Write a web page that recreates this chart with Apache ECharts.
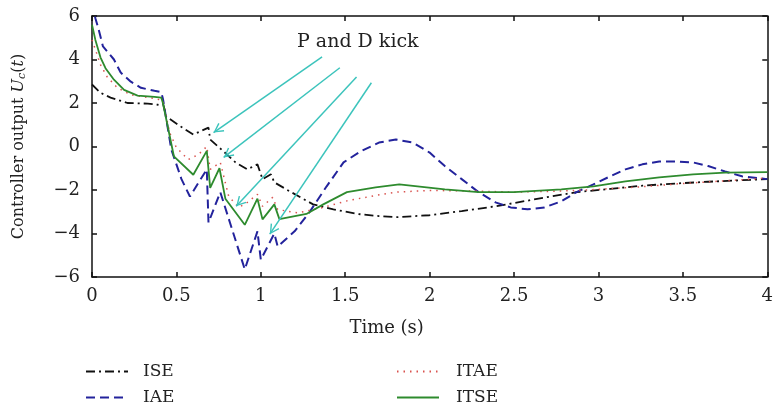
<!DOCTYPE html>
<html>
<head>
<meta charset="utf-8">
<script src="https://cdn.jsdelivr.net/npm/echarts@6/dist/echarts.min.js"></script>
<style>
html,body{margin:0;padding:0;background:#fff;}
#chart{width:776px;height:407px;}
</style>
</head>
<body>
<div id="chart"></div>
<script>
// ---- data (time s, controller output) ----
const seriesNames = ['ISE', 'IAE', 'ITAE', 'ITSE'];
const xTicks = [0, 0.5, 1, 1.5, 2, 2.5, 3, 3.5, 4];
const yTicks = [-6, -4, -2, 0, 2, 4, 6];

const ISE = [[0,2.85],[0.05,2.47],[0.11,2.25],[0.21,2.0],[0.33,1.97],[0.39,1.92],[0.42,2.0],[0.44,1.37],[0.53,0.9],[0.6,0.55],[0.69,0.87],[0.70,0.32],[0.78,-0.23],[0.85,-0.73],[0.92,-1.05],[0.98,-0.82],[1.01,-1.5],[1.06,-1.28],[1.08,-1.65],[1.18,-2.1],[1.31,-2.66],[1.43,-2.89],[1.57,-3.1],[1.70,-3.2],[1.80,-3.25],[2.0,-3.16],[2.19,-2.97],[2.39,-2.75],[2.5,-2.6],[2.68,-2.35],[2.87,-2.1],[3.07,-1.95],[3.26,-1.8],[3.46,-1.7],[3.65,-1.62],[3.85,-1.55],[4.0,-1.5]];

const IAE = [[0,6.6],[0.02,5.9],[0.04,5.36],[0.065,4.6],[0.13,4.0],[0.17,3.4],[0.23,2.98],[0.29,2.7],[0.37,2.56],[0.41,2.5],[0.42,2.2],[0.47,-0.14],[0.53,-1.5],[0.58,-2.3],[0.68,-1.05],[0.69,-3.5],[0.76,-2.1],[0.905,-5.65],[0.98,-3.9],[1.0,-5.2],[1.08,-4.0],[1.1,-4.6],[1.2,-3.9],[1.29,-3.0],[1.39,-1.83],[1.49,-0.73],[1.59,-0.23],[1.70,0.18],[1.80,0.32],[1.90,0.18],[2.0,-0.28],[2.09,-0.9],[2.19,-1.5],[2.29,-2.1],[2.39,-2.57],[2.48,-2.8],[2.58,-2.89],[2.68,-2.8],[2.78,-2.52],[2.87,-2.1],[2.97,-1.74],[3.07,-1.37],[3.16,-1.05],[3.26,-0.82],[3.36,-0.69],[3.46,-0.69],[3.56,-0.73],[3.65,-0.9],[3.75,-1.15],[3.85,-1.37],[4.0,-1.5]];

const ITAE = [[0,4.9],[0.025,4.35],[0.05,3.76],[0.09,3.2],[0.15,2.7],[0.23,2.38],[0.33,2.25],[0.38,2.2],[0.42,2.1],[0.46,0.64],[0.5,-0.05],[0.57,-0.6],[0.63,-0.37],[0.68,0],[0.70,-1.05],[0.76,-0.73],[0.81,-2.3],[0.87,-2.8],[0.92,-2.57],[0.98,-2.2],[1.01,-2.75],[1.07,-2.34],[1.1,-2.9],[1.22,-3.05],[1.37,-2.8],[1.51,-2.5],[1.68,-2.25],[1.8,-2.1],[2.0,-2.02],[2.29,-2.05],[2.5,-2.1],[2.78,-2.05],[3.0,-1.97],[3.26,-1.85],[3.5,-1.7],[3.75,-1.58],[4.0,-1.45]];

const ITSE = [[0,5.6],[0.02,4.9],[0.05,4.1],[0.08,3.6],[0.13,3.07],[0.19,2.6],[0.27,2.34],[0.37,2.28],[0.41,2.25],[0.42,2.0],[0.485,-0.45],[0.6,-1.3],[0.68,-0.2],[0.70,-1.9],[0.755,-1.0],[0.79,-2.4],[0.905,-3.6],[0.98,-2.4],[1.01,-3.35],[1.08,-2.66],[1.11,-3.34],[1.27,-3.1],[1.37,-2.66],[1.51,-2.1],[1.68,-1.88],[1.82,-1.74],[2.09,-1.97],[2.29,-2.1],[2.5,-2.1],[2.78,-1.97],[2.97,-1.83],[3.16,-1.6],[3.36,-1.42],[3.56,-1.28],[3.75,-1.2],[4.0,-1.18]];

// annotation arrows: [start, tip] in data coordinates
const kickArrows = [
  [[1.363, 4.12], [0.72, 0.64]],
  [[1.468, 3.62], [0.78, -0.5]],
  [[1.567, 3.2], [0.854, -2.75]],
  [[1.655, 2.93], [1.053, -4.03]]
];
const annotationText = 'P and D kick';

// ---- chart ----
const FONT = 'DejaVu Serif';
const chart = echarts.init(document.getElementById('chart'), null, {renderer: 'canvas'});
const minusFmt = v => String(v).replace('-', '\u2212');
// open chevron with its vertex at the centre of a square box
const chevron = 'path://M5,0 L10,9 L8.8,9.7 L5,2.6 L1.2,9.7 L0,9 Z' +
  ' M5,-9.7 L5.01,-9.7 L5,-9.69 Z M-4.7,0 L-4.69,0 L-4.7,0.01 Z M14.7,0 L14.69,0 L14.7,0.01 Z';

const axisCommon = {
  axisLine: {show: true, onZero: false, lineStyle: {color: '#111', width: 1.5}},
  axisTick: {show: true, inside: true, length: 5, lineStyle: {color: '#111', width: 1.5}},
  splitLine: {show: false}
};

const legendCommon = {
  orient: 'vertical', top: 363, padding: 0,
  itemWidth: 42, itemHeight: 12, itemGap: 9,
  itemStyle: {opacity: 0}
};

const option = {
  animation: false,
  backgroundColor: '#fff',
  grid: {left: 92, right: 1, top: 16, bottom: 130, containLabel: false},
  xAxis: [
    Object.assign({
      type: 'value', min: xTicks[0], max: xTicks[xTicks.length - 1], interval: 0.5, position: 'bottom',
      axisLabel: {fontFamily: FONT, fontSize: 18, color: '#222', margin: 10, formatter: minusFmt},
      name: 'Time (s)', nameLocation: 'middle', nameGap: 42,
      nameTextStyle: {fontFamily: FONT, fontSize: 18, color: '#222', padding: [0, 86, 0, 0]}
    }, axisCommon),
    Object.assign({
      type: 'value', min: xTicks[0], max: xTicks[xTicks.length - 1], interval: 0.5, position: 'top',
      axisLabel: {show: false}
    }, axisCommon)
  ],
  yAxis: [
    Object.assign({
      type: 'value', min: yTicks[0], max: yTicks[yTicks.length - 1], interval: 2, position: 'left',
      axisLabel: {fontFamily: FONT, fontSize: 18, color: '#222', margin: 12, formatter: minusFmt},
      name: '{a|Controller output }{i|U}{s|c}{a|(}{i|t}{a|)}',
      nameLocation: 'middle', nameGap: 64, nameRotate: 90,
      nameTextStyle: {
        fontFamily: FONT, fontSize: 16, color: '#222',
        rich: {
          a: {fontFamily: FONT, fontSize: 16, color: '#222'},
          i: {fontFamily: FONT, fontSize: 16, fontStyle: 'italic', color: '#222'},
          s: {fontFamily: FONT, fontSize: 11, fontStyle: 'italic', color: '#222', padding: [8, 0, 0, 0]}
        }
      }
    }, axisCommon),
    Object.assign({
      type: 'value', min: yTicks[0], max: yTicks[yTicks.length - 1], interval: 2, position: 'right',
      axisLabel: {show: false}
    }, axisCommon)
  ],
  legend: [
    Object.assign({
      data: [seriesNames[0], seriesNames[1]], left: 85,
      textStyle: {fontFamily: FONT, fontSize: 17, lineHeight: 17, color: '#222', padding: [0, 0, 0, 10]}
    }, legendCommon),
    Object.assign({
      data: [seriesNames[2], seriesNames[3]], left: 396,
      textStyle: {fontFamily: FONT, fontSize: 17, lineHeight: 17, color: '#222', padding: [0, 0, 0, 12]}
    }, legendCommon)
  ],
  graphic: [
    {type: 'text', left: 297, top: 33, style: {text: annotationText, font: '19px "' + FONT + '"', fill: '#222'}}
  ],
  series: [
    {
      name: 'ISE', type: 'line', data: ISE, symbol: 'none', clip: true,
      lineStyle: {color: '#111', width: 1.8, type: [9, 4, 2, 4]}, itemStyle: {color: '#111'}
    },
    {
      name: 'IAE', type: 'line', data: IAE, symbol: 'none', clip: true,
      lineStyle: {color: '#23239c', width: 2, type: [9, 5]}, itemStyle: {color: '#23239c'}
    },
    {
      name: 'ITAE', type: 'line', data: ITAE, symbol: 'none', clip: true,
      lineStyle: {color: '#d9534f', width: 1.5, type: [1.5, 5]}, itemStyle: {color: '#d9534f'}
    },
    {
      name: 'ITSE', type: 'line', data: ITSE, symbol: 'none', clip: true,
      lineStyle: {color: '#2e8b2e', width: 1.8}, itemStyle: {color: '#2e8b2e'},
      markLine: {
        silent: true, animation: false,
        symbol: ['none', chevron], symbolSize: 20,
        label: {show: false},
        lineStyle: {color: '#3cc4bc', width: 1.5, type: 'solid'},
        itemStyle: {color: '#3cc4bc'},
        data: kickArrows.map(a => [{coord: a[0]}, {coord: a[1]}])
      }
    }
  ]
};
chart.setOption(option);
</script>
</body>
</html>
